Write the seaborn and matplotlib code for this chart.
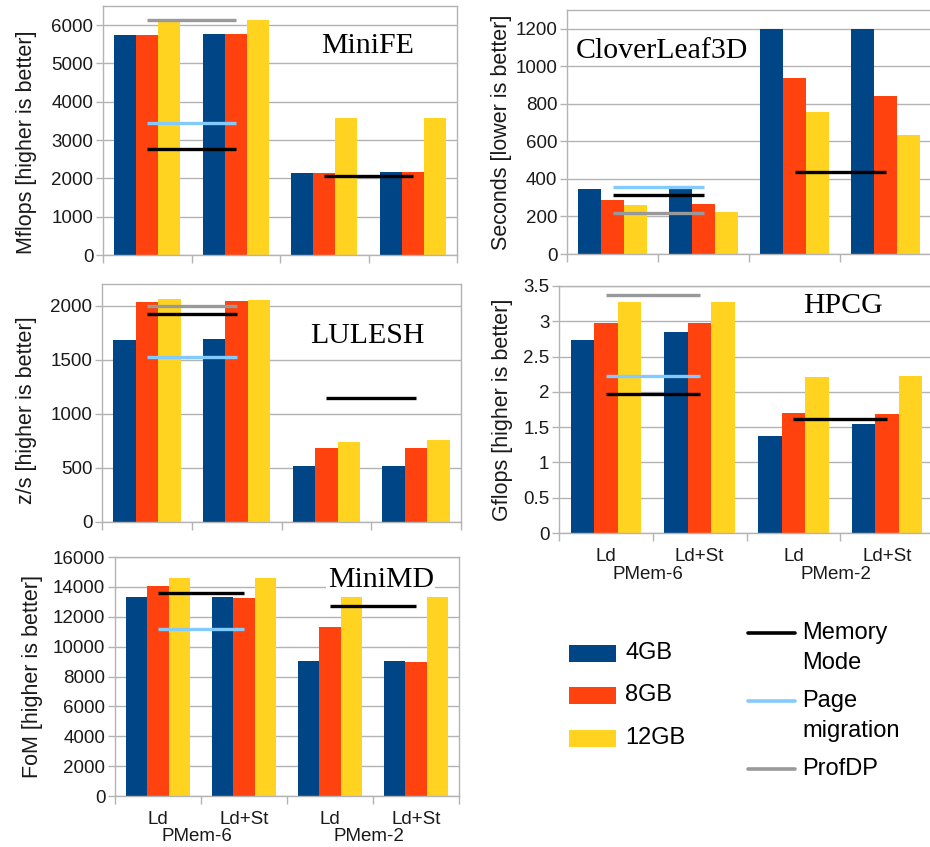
import numpy as np
import pandas as pd
import matplotlib
matplotlib.use("Agg")
import matplotlib.pyplot as plt
from matplotlib.patches import Rectangle
from matplotlib.lines import Line2D
from matplotlib.ticker import FixedLocator
import seaborn as sns

# ---------------- data ----------------
configs = ["PMem-6 Ld", "PMem-6 Ld+St", "PMem-2 Ld", "PMem-2 Ld+St"]
config_labels = ["Ld", "Ld+St", "Ld", "Ld+St"]
group_labels = ["PMem-6", "PMem-2"]
sizes = ["4GB", "8GB", "12GB"]

minife_4gb = [5750, 5760, 2150, 2155]
minife_8gb = [5750, 5760, 2150, 2155]
minife_12gb = [6150, 6140, 3565, 3585]
minife_memory_mode = [2760, 2070]
minife_page_migration = [3450]
minife_profdp = [6140]

cloverleaf_4gb = [348, 349, 1200, 1200]
cloverleaf_8gb = [290, 269, 938, 841]
cloverleaf_12gb = [260, 225, 759, 632]
cloverleaf_memory_mode = [313, 437]
cloverleaf_page_migration = [357]
cloverleaf_profdp = [218]

lulesh_4gb = [1685, 1694, 515, 519]
lulesh_8gb = [2037, 2040, 685, 688]
lulesh_12gb = [2062, 2049, 735, 759]
lulesh_memory_mode = [1926, 1142]
lulesh_page_migration = [1522]
lulesh_profdp = [1997]

hpcg_4gb = [2.74, 2.85, 1.38, 1.55]
hpcg_8gb = [2.97, 2.97, 1.70, 1.69]
hpcg_12gb = [3.27, 3.28, 2.21, 2.23]
hpcg_memory_mode = [1.97, 1.61]
hpcg_page_migration = [2.22]
hpcg_profdp = [3.37]

minimd_4gb = [13300, 13300, 9025, 9025]
minimd_8gb = [14060, 13280, 11320, 9000]
minimd_12gb = [14575, 14575, 13350, 13350]
minimd_memory_mode = [13590, 12720]
minimd_page_migration = [11210]
minimd_profdp = []

minife_yticks = [0, 1000, 2000, 3000, 4000, 5000, 6000]
cloverleaf_yticks = [0, 200, 400, 600, 800, 1000, 1200]
lulesh_yticks = [0, 500, 1000, 1500, 2000]
hpcg_yticks = [0, 0.5, 1, 1.5, 2, 2.5, 3, 3.5]
hpcg_yticklabels = ["0", "0.5", "1", "1.5", "2", "2.5", "3", "3.5"]
minimd_yticks = [0, 2000, 4000, 6000, 8000, 10000, 12000, 14000, 16000]

# ---------------- style ----------------
sns.set_style("white")
plt.rcParams["font.family"] = ["Liberation Sans", "DejaVu Sans"]

bar_colors = ["#004586", "#ff420e", "#ffd320"]
mm_color = "#000000"
pm_color = "#83caff"
pd_color = "#999999"
frame_color = "#b3b3b3"
TICK_FS = 13.5
LABEL_FS = 15.5
TITLE_FONT = ["Liberation Serif", "DejaVu Serif"]

W, H = 930, 847
fig = plt.figure(figsize=(W / 100, H / 100), dpi=100)


def px_axes(left, top, right, bottom):
    return fig.add_axes([left / W, 1 - bottom / H, (right - left) / W, (bottom - top) / H])


def panel(ax, v4, v8, v12, mm, pm, pdp, yticks, ytl, ylim, ylabel, ylabel_xy,
          title, tx, ty, show_x, title_bg=False):
    df = pd.DataFrame({
        "config": configs * 3,
        "size": [s for s in sizes for _ in configs],
        "value": list(v4) + list(v8) + list(v12),
    })
    sns.barplot(data=df, x="config", y="value", hue="size", order=configs,
                hue_order=sizes, palette=bar_colors, width=0.75, saturation=1,
                linewidth=0, errorbar=None, legend=False, ax=ax, zorder=2)
    # horizontal reference lines, spanning centres of the two configs per group
    spans = [(0, 1), (2, 3)]
    for val, (a, b) in zip(pdp, spans):
        ax.plot([a, b], [val, val], color=pd_color, lw=2.4, zorder=3, solid_capstyle="butt")
    for val, (a, b) in zip(pm, spans):
        ax.plot([a, b], [val, val], color=pm_color, lw=2.4, zorder=3, solid_capstyle="butt")
    for val, (a, b) in zip(mm, spans):
        ax.plot([a, b], [val, val], color=mm_color, lw=2.4, zorder=4, solid_capstyle="butt")

    ax.set_xlim(-0.5, 3.5)
    ax.set_ylim(*ylim)
    ax.set_yticks(yticks)
    ax.set_yticklabels(ytl if ytl is not None else [str(t) for t in yticks])
    ax.yaxis.grid(True, color=frame_color, lw=1)
    ax.xaxis.grid(False)
    ax.set_axisbelow(True)
    for s in ax.spines.values():
        s.set_visible(True)
        s.set_color(frame_color)
        s.set_linewidth(1)
    ax.tick_params(axis="y", length=5, width=1, color=frame_color,
                   labelsize=TICK_FS, labelcolor="#1a1a1a", pad=2, left=True)
    ax.set_xticks([0, 1, 2, 3])
    ax.xaxis.set_minor_locator(FixedLocator([-0.5, 0.5, 1.5, 2.5, 3.5]))
    ax.tick_params(axis="x", which="major", length=0, labelsize=TICK_FS,
                   labelcolor="#1a1a1a", pad=11)
    ax.tick_params(axis="x", which="minor", length=6, width=1, color=frame_color,
                   bottom=True)
    if show_x:
        ax.set_xticklabels(config_labels)
        for gx, gl in zip([0.45, 2.45], group_labels):
            ax.text(gx, -0.17, gl, transform=ax.get_xaxis_transform(),
                    ha="center", va="center", fontsize=TICK_FS, color="#1a1a1a")
    else:
        ax.set_xticklabels([])
    ax.set_xlabel("")
    ax.set_ylabel(ylabel, fontsize=LABEL_FS, color="#1a1a1a")
    ax.yaxis.set_label_coords(*ylabel_xy)
    kw = dict(transform=ax.transAxes, ha="center", va="baseline",
              fontsize=21.5, family=TITLE_FONT, color="black", zorder=5)
    if title_bg:
        kw["bbox"] = dict(facecolor="white", edgecolor="none", pad=1)
    ax.text(tx, ty, title, **kw)


ax1 = px_axes(103, 6, 457, 255)
panel(ax1, minife_4gb, minife_8gb, minife_12gb, minife_memory_mode,
      minife_page_migration, minife_profdp, minife_yticks, None, (0, 6500),
      "Mflops [higher is better]", (-0.186, 0.452), "MiniFE", 0.746, 0.811, False)

ax2 = px_axes(567, 10, 931, 254)
panel(ax2, cloverleaf_4gb, cloverleaf_8gb, cloverleaf_12gb, cloverleaf_memory_mode,
      cloverleaf_page_migration, cloverleaf_profdp, cloverleaf_yticks, None, (0, 1300),
      "Seconds [lower is better]", (-0.152, 0.5), "CloverLeaf3D", 0.26, 0.803, False)

ax3 = px_axes(102, 284, 461, 522)
panel(ax3, lulesh_4gb, lulesh_8gb, lulesh_12gb, lulesh_memory_mode,
      lulesh_page_migration, lulesh_profdp, lulesh_yticks, None, (0, 2200),
      "z/s [higher is better]", (-0.181, 0.47), "LULESH", 0.738, 0.752, False)

ax4 = px_axes(559, 286, 934, 533)
panel(ax4, hpcg_4gb, hpcg_8gb, hpcg_12gb, hpcg_memory_mode,
      hpcg_page_migration, hpcg_profdp, hpcg_yticks, hpcg_yticklabels, (0, 3.5),
      "Gflops [higher is better]", (-0.123, 0.5), "HPCG", 0.757, 0.891, True)

ax5 = px_axes(115, 557, 459, 796)
panel(ax5, minimd_4gb, minimd_8gb, minimd_12gb, minimd_memory_mode,
      minimd_page_migration, minimd_profdp, minimd_yticks, None, (0, 16000),
      "FoM [higher is better]", (-0.209, 0.5), "MiniMD", 0.773, 0.874, True, title_bg=True)

# ---------------- legends ----------------
LEG_FS = 17
for (yc, col, lab) in zip([653, 695, 738], bar_colors, sizes):
    fig.add_artist(Rectangle((569 / W, 1 - (yc + 8.5) / H), 47 / W, 17 / H,
                             transform=fig.transFigure, facecolor=col, edgecolor="none"))
    fig.text(625 / W, 1 - yc / H, lab, ha="left", va="center", fontsize=LEG_FS, color="black")

line_items = [(633, mm_color, ["Memory", "Mode"]),
              (701, pm_color, ["Page", "migration"]),
              (769, pd_color, ["ProfDP"])]
for (yc, col, labs) in line_items:
    fig.add_artist(Line2D([748 / W, 795 / W], [1 - yc / H, 1 - yc / H],
                          transform=fig.transFigure, color=col, lw=2.6))
    for i, lab in enumerate(labs):
        fig.text(802 / W, 1 - (yc + 30 * i) / H, lab, ha="left", va="center",
                 fontsize=LEG_FS, color="black")

fig.savefig("out.png", dpi=100)
